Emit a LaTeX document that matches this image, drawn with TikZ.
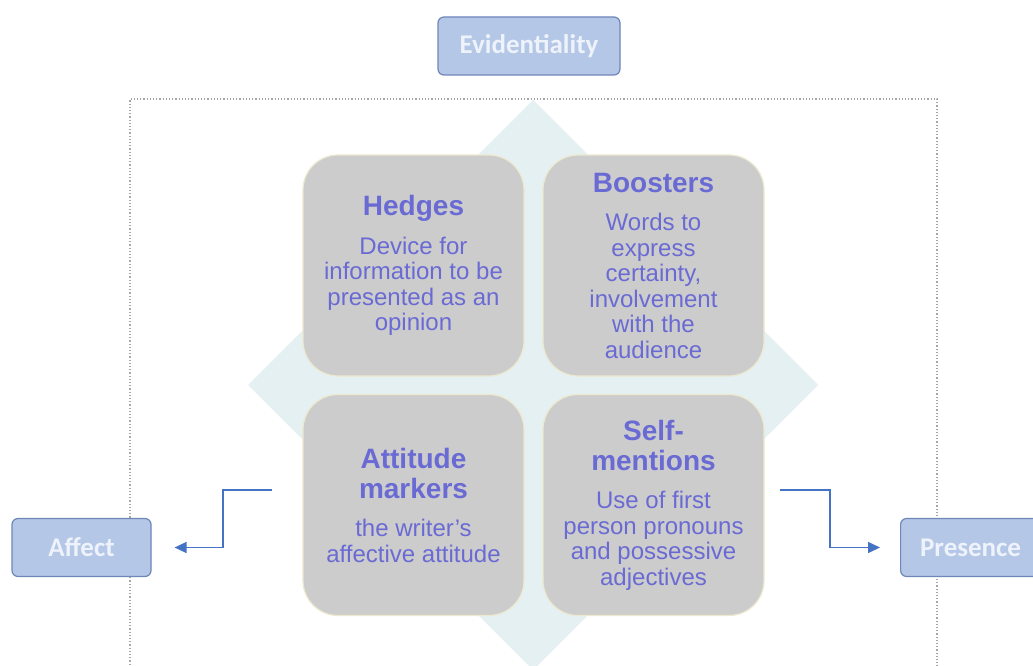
\documentclass[tikz,border=0pt]{standalone}
\usepackage{fontspec}
\setmainfont{Liberation Sans}
\newfontfamily\calib{Carlito}
\usetikzlibrary{arrows.meta,shapes.geometric}
\definecolor{txtc}{HTML}{6A6AD4}
\definecolor{cellfill}{HTML}{CCCCCC}
\definecolor{cellline}{HTML}{EDE9CF}
\definecolor{diam}{HTML}{E5F0F2}
\definecolor{tagfill}{HTML}{B4C7E7}
\definecolor{tagline}{HTML}{6F86B8}
\definecolor{tagtxt}{HTML}{EEF2FA}
\definecolor{arr}{HTML}{4472C4}
\newcommand{\fixsp}{\spaceskip=\fontdimen2\font\xspaceskip=\fontdimen2\font}
\newcommand{\ttl}[1]{{\fontsize{28}{30}\selectfont\bfseries\fixsp #1\par}\vspace{13pt}}
\newcommand{\bdy}[1]{{\fontsize{24}{25.5}\selectfont\fixsp #1\par}}
\tikzset{
  cell/.style={draw=cellline, line width=1.2pt, fill=cellfill, rounded corners=35pt,
    minimum width=221pt, minimum height=221pt, text width=215pt, align=center, text=txtc, inner sep=0pt},
  tag/.style={draw=tagline, line width=1.2pt, fill=tagfill, rounded corners=6pt,
    minimum height=58pt, text=tagtxt, font=\calib\fontsize{27}{29}\selectfont\bfseries, inner sep=0pt},
  conn/.style={draw=arr, line width=1.5pt, -{Triangle[length=12pt,width=11pt]}}
}
\begin{document}
\begin{tikzpicture}[x=1pt,y=-1pt]
\useasboundingbox (0,0) rectangle (1033,666);
\clip (0,0) rectangle (1033,666);
\fill[white] (0,0) rectangle (1033,666);
% diamond background
\fill[diam] (533,100) -- (818,385) -- (533,670) -- (248,385) -- cycle;
% dotted frame
\draw[gray!70, line width=1.2pt, dotted] (130,700) -- (130,99) -- (937,99) -- (937,700);
% cells
\node[cell] (hedges) at (413.5,265.5) {\ttl{Hedges}\bdy{Device for\\information to be\\presented as an\\opinion}};
\node[cell] (boosters) at (653.5,265.5) {\ttl{Boosters}\bdy{Words to\\express\\certainty,\\involvement\\with the\\audience}};
\node[cell] (attitude) at (413.5,505) {\ttl{Attitude\\markers}\bdy{the writer’s\\affective attitude}};
\node[cell] (self) at (653.5,505) {\ttl{Self-\\mentions}\bdy{Use of first\\person pronouns\\and possessive\\adjectives}};
% tags
\node[tag, minimum width=182pt] (evid) at (529,46) {Evidentiality};
\node[tag, minimum width=139pt] (affect) at (81.5,547.5) {Affect};
\node[tag, minimum width=160pt, anchor=west] (presence) at (900,547.5) {\hspace*{-20pt}Presence};
% connectors
\coordinate (ls) at (272,490);
\coordinate (rs) at (780,490);
\draw[conn] (ls) -- (223,490) |- ([xshift=23pt]affect.east);
\draw[conn] (rs) -- (830,490) |- ([xshift=-20pt]presence.west);
\end{tikzpicture}
\end{document}
